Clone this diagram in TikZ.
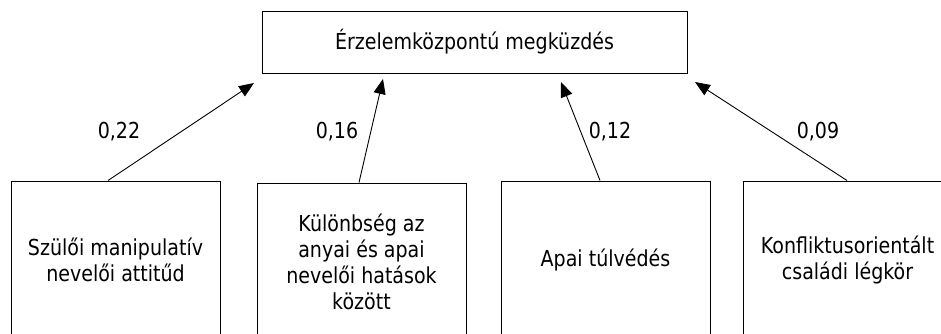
\documentclass[tikz,border=0pt]{standalone}
\usepackage{fontspec}
\setmainfont{DejaVu Sans}[FakeStretch=0.865]
\usetikzlibrary{arrows.meta}
\begin{document}
\begin{tikzpicture}[x=1pt,y=-1pt,
  txt/.style={font=\fontsize{22}{26}\selectfont},
  box/.style={txt,draw=black,line width=1pt,minimum width=209pt,minimum height=158pt,align=center,inner sep=0pt},
  topbox/.style={txt,draw=black,line width=1pt,minimum width=425pt,minimum height=62pt,inner sep=0pt},
  conn/.style={line width=0.9pt,-{Triangle[length=15pt,width=12pt]}},
  lab/.style={txt}]
\useasboundingbox (0,0) rectangle (941,333);
\clip (0,0) rectangle (941,333);
\node[topbox] (top) at (474.5,42) {Érzelemközpontú megküzdés};
\node[box] (b1) at (115.5,260) {Szülői manipulatív\\nevelői attitűd};
\node[box] (b2) at (361.5,262) {Különbség az\\anyai és apai\\nevelői hatások\\között};
\node[box] (b3) at (605.5,260) {Apai túlvédés};
\node[box] (b4) at (847.5,260) {Konfliktusorientált\\családi légkör};
\coordinate (t1) at (254,83);
\coordinate (t2) at (383,79);
\coordinate (t3) at (561,82);
\coordinate (t4) at (695,82);
\draw[conn] ([xshift=-7.5pt]b1.north) -- (t1);
\draw[conn] ([xshift=-2.5pt]b2.north) -- (t2);
\draw[conn] ([xshift=-5.5pt]b3.north) -- (t3);
\draw[conn] ([xshift=-0.5pt]b4.north) -- (t4);
\node[lab] (l1) at (119,132) {0,22};
\node[lab] (l2) at (337,132) {0,16};
\node[lab] (l3) at (610,132) {0,12};
\node[lab] (l4) at (818,132) {0,09};
\end{tikzpicture}
\end{document}
